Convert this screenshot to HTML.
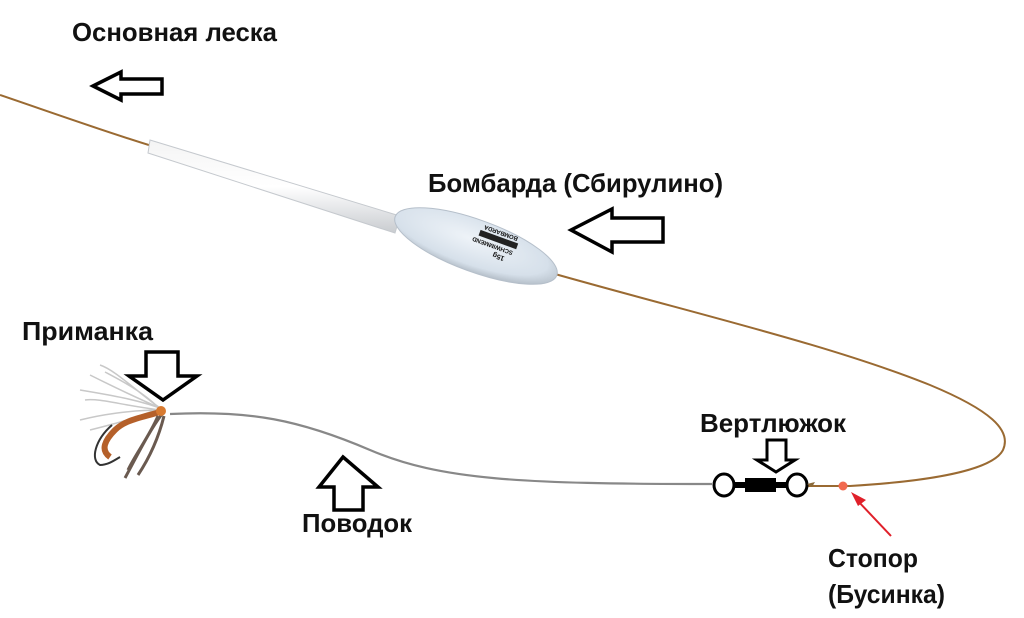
<!DOCTYPE html>
<html><head><meta charset="utf-8"><style>
html,body{margin:0;padding:0;background:#fff;}
svg{display:block;}
text{font-family:"Liberation Sans Narrow","Liberation Sans",sans-serif;font-weight:bold;fill:#111;}
</style></head><body>
<svg width="1024" height="618" viewBox="0 0 1024 618" xmlns="http://www.w3.org/2000/svg">
<defs>
<linearGradient id="tube" x1="0" y1="0" x2="0" y2="1">
<stop offset="0" stop-color="#f4f4f4"/><stop offset="0.5" stop-color="#ffffff"/><stop offset="1" stop-color="#c9ccd0"/>
</linearGradient>
<radialGradient id="body" cx="0.45" cy="0.4" r="0.6">
<stop offset="0" stop-color="#eef3f8"/><stop offset="0.8" stop-color="#d6e0ea"/><stop offset="1" stop-color="#b8c2cc"/>
</radialGradient>
</defs>
<path d="M0,95 C50,112 100,130 152,146" stroke="#9a6a32" stroke-width="2" fill="none"/>
<path d="M555,274 C700,315 830,345 930,385 C990,410 1012,430 1003,450 C990,475 900,483 850,486 L808,486" stroke="#9a6a32" stroke-width="2" fill="none"/>
<path d="M150,140 L400,216 L395,233 L148,153 Z" fill="url(#tube)" stroke="#c5c9ce" stroke-width="1"/>
<ellipse cx="476" cy="246" rx="86" ry="26" transform="rotate(20 476 246)" fill="url(#body)" stroke="#b5bfca" stroke-width="1"/>
<g transform="translate(490,245) rotate(200)">
<text x="-18" y="-6" style="font-size:7px">15g</text>
<text x="-24" y="2" style="font-size:6px">SCHWIMMEND</text>
<rect x="-26" y="5" width="40" height="6" fill="#222"/>
<text x="-24" y="17" style="font-size:6px">BOMBARDA</text>
</g>
<path d="M170,414 C250,410 300,420 370,450 C440,480 520,484 712,484" stroke="#888" stroke-width="2.2" fill="none"/>
<ellipse cx="724" cy="485" rx="10" ry="11" fill="#fff" stroke="#000" stroke-width="3"/>
<ellipse cx="797" cy="485" rx="10" ry="11" fill="#fff" stroke="#000" stroke-width="3"/>
<rect x="734" y="482" width="54" height="6" fill="#000"/>
<rect x="745" y="478" width="31" height="14" fill="#000"/>
<path d="M807,484 l8,-2 l-3,5 z" fill="#8a6a3a"/>
<circle cx="843" cy="486" r="4.5" fill="#f26a4f"/>
<line x1="891" y1="536" x2="857" y2="500" stroke="#e0202a" stroke-width="2"/>
<path d="M851,492 L866,500 L858,506 Z" fill="#e0202a"/>
<g>
<path d="M165,410 C140,400 110,395 80,390 M160,408 C130,395 110,385 90,375 M160,410 C130,410 100,415 80,420 M158,407 C140,390 120,380 105,372 M160,408 C135,390 115,370 100,365 M160,410 C120,405 100,398 85,400 M158,409 C130,420 110,425 90,430" stroke="#c8c8c8" stroke-width="1.5" fill="none"/>
<path d="M160,412 C140,418 125,420 115,430 C105,440 100,450 110,457" stroke="#b5602a" stroke-width="6" fill="none"/>
<path d="M112,425 C95,440 90,460 100,465 C108,465 115,460 120,457" stroke="#333" stroke-width="2" fill="none"/>
<path d="M162,414 C150,430 140,450 125,478 M158,416 C150,435 135,455 128,470 M164,416 C158,440 148,460 138,475" stroke="#6a5a50" stroke-width="3" fill="none"/>
<circle cx="161" cy="411" r="5" fill="#d87a30"/>
</g>
<g fill="#fff" stroke="#000" stroke-width="3.5" stroke-linejoin="miter">
<path d="M93,86 L121,72 L121,79 L162,79 L162,94 L121,94 L121,100 Z"/>
<path d="M571,230 L612,209 L612,218 L663,218 L663,242 L612,242 L612,252 Z"/>
<path d="M146,352 L178,352 L178,376 L197,376 L163,400 L129,376 L146,376 Z"/>
<path d="M343,457 L378,487 L363,487 L363,510 L334,510 L334,487 L319,487 Z"/>
<path d="M767,440 L786,440 L786,460 L795,460 L776,472 L757,460 L767,460 Z" stroke-width="3"/>
</g>
<text x="72" y="41" font-size="26" textLength="205" lengthAdjust="spacingAndGlyphs">Основная леска</text>
<text x="428" y="192" font-size="26" textLength="295" lengthAdjust="spacingAndGlyphs">Бомбарда (Сбирулино)</text>
<text x="22" y="340" font-size="26" textLength="131" lengthAdjust="spacingAndGlyphs">Приманка</text>
<text x="700" y="432" font-size="26" textLength="146" lengthAdjust="spacingAndGlyphs">Вертлюжок</text>
<text x="302" y="532" font-size="26" textLength="110" lengthAdjust="spacingAndGlyphs">Поводок</text>
<text x="828" y="567" font-size="26" textLength="90" lengthAdjust="spacingAndGlyphs">Стопор</text>
<text x="828" y="603" font-size="26" textLength="117" lengthAdjust="spacingAndGlyphs">(Бусинка)</text>
</svg>
</body></html>
